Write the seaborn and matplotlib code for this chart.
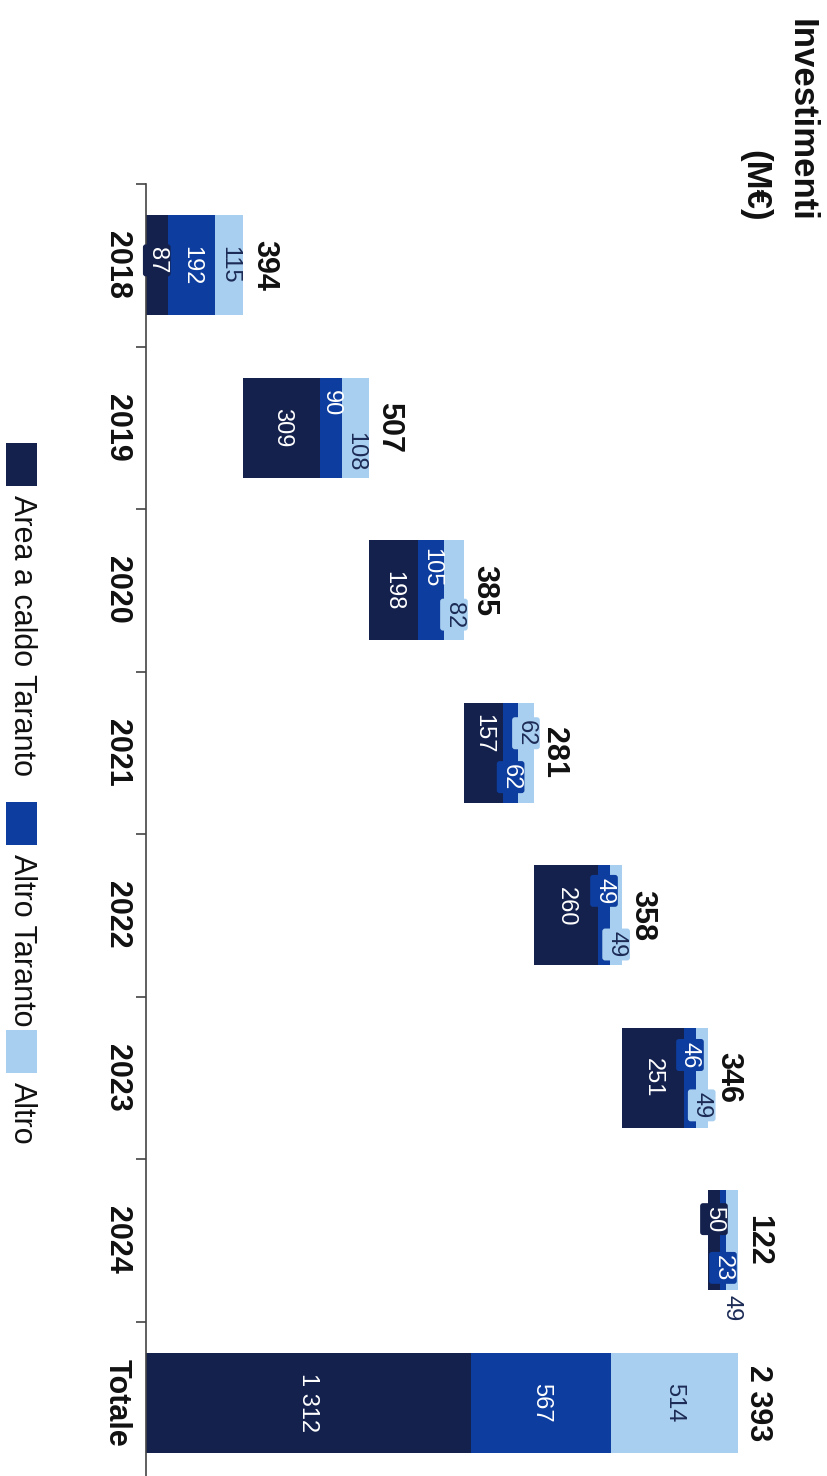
import numpy as np
import matplotlib
matplotlib.use("Agg")
import matplotlib.pyplot as plt
from matplotlib.patches import Rectangle
import seaborn as sns

categories = ["2018", "2019", "2020", "2021", "2022", "2023", "2024", "Totale"]
area_caldo = [87, 309, 198, 157, 260, 251, 50, 1312]
altro_taranto = [192, 90, 105, 62, 49, 46, 23, 567]
altro = [115, 108, 82, 62, 49, 49, 49, 514]
totals = [394, 507, 385, 281, 358, 346, 122, 2393]
series_names = ["Area a caldo Taranto", "Altro Taranto", "Altro"]
colors = ["#14214d", "#0d3d9e", "#a9cff0"]

# where segment labels sit along the bar (category units), to dodge narrow segments
dark_off = [-0.03, 0, 0, -0.12, -0.05, 0, -0.13, 0]
blue_off = [0, -0.15, -0.14, 0.15, -0.15, -0.14, 0.17, 0]
light_off = [0, 0.15, 0.15, -0.12, 0.18, 0.17, 0.42, 0]


def fmt(v):
    return f"{v:,}".replace(",", " ")


sns.set_theme(style="white")
plt.rcParams["font.family"] = ["Liberation Sans", "DejaVu Sans"]

W, H = 828, 1476
fig = plt.figure(figsize=(W / 100, H / 100), dpi=100)
ax = fig.add_axes([146 / W, 1 - 1484 / H, 1 - 146 / W, 1300 / H])

# waterfall base: running sum of the years, Totale starts at zero
base = list(np.concatenate([[0], np.cumsum(totals[:-2])])) + [0]
end_dark = [b + d for b, d in zip(base, area_caldo)]
end_blue = [e + t for e, t in zip(end_dark, altro_taranto)]
end_light = [e + a for e, a in zip(end_blue, altro)]

bar_w = 0.615
for vals, col in [(end_light, colors[2]), (end_blue, colors[1]),
                  (end_dark, colors[0]), (base, "white")]:
    sns.barplot(x=vals, y=categories, order=categories, orient="h", color=col,
                saturation=1, width=bar_w, errorbar=None, linewidth=0, ax=ax)

ax.set_xlim(0, 2757)
ax.set_ylim(7.5, -0.5)
ax.set_xticks([])
ax.set_xlabel("")
ax.set_ylabel("")
for s in ["top", "right", "bottom"]:
    ax.spines[s].set_visible(False)
ax.spines["left"].set_color("#444444")
ax.spines["left"].set_linewidth(1.2)

ax.set_yticks(range(len(categories)))
ax.set_yticklabels(categories, rotation=-90, fontsize=22, fontweight="bold",
                   va="center", color="#111111")
ax.set_yticks(np.arange(-0.5, len(categories), 1), minor=True)
ax.tick_params(axis="y", which="major", length=0, pad=10)
ax.tick_params(axis="y", which="minor", length=7, width=1.2, color="#444444",
               direction="out", left=True)

# segment labels
for i in range(len(categories)):
    segs = [(base[i], area_caldo[i], dark_off[i], colors[0], "white"),
            (end_dark[i], altro_taranto[i], blue_off[i], colors[1], "white"),
            (end_blue[i], altro[i], light_off[i], colors[2], "#1c2b55")]
    for start, v, off, col, tcol in segs:
        box = None
        if v < 90 and off < 0.4:
            box = dict(boxstyle="round,pad=0.12", fc=col, ec="none")
        ax.text(start + v / 2, i + off, fmt(v), rotation=-90, ha="center",
                va="center", fontsize=17, color=tcol, bbox=box)
    ax.text(end_light[i] + 22, i, fmt(totals[i]), rotation=-90, ha="left",
            va="center", fontsize=22, fontweight="bold", color="#111111")

# title
fig.text(801 / W, 1 - 222 / H, "Investimenti", rotation=-90, ha="center",
         va="bottom", fontsize=25, fontweight="bold", color="#111111")
fig.text(755 / W, 1 - 222 / H, "(M€)", rotation=-90, ha="center",
         va="bottom", fontsize=25, fontweight="bold", color="#111111")

# legend, drawn rotated like the rest
leg_y = [443, 802, 1030]
for name, col, y0 in zip(series_names, colors, leg_y):
    fig.patches.append(Rectangle((6 / W, 1 - (y0 + 43) / H), 31 / W, 43 / H,
                                 transform=fig.transFigure, fc=col, ec="none"))
    fig.text(22 / W, 1 - (y0 + 52) / H, name, rotation=-90, ha="center",
             va="top", fontsize=22, color="#111111")

fig.savefig("out.png", dpi=100)
